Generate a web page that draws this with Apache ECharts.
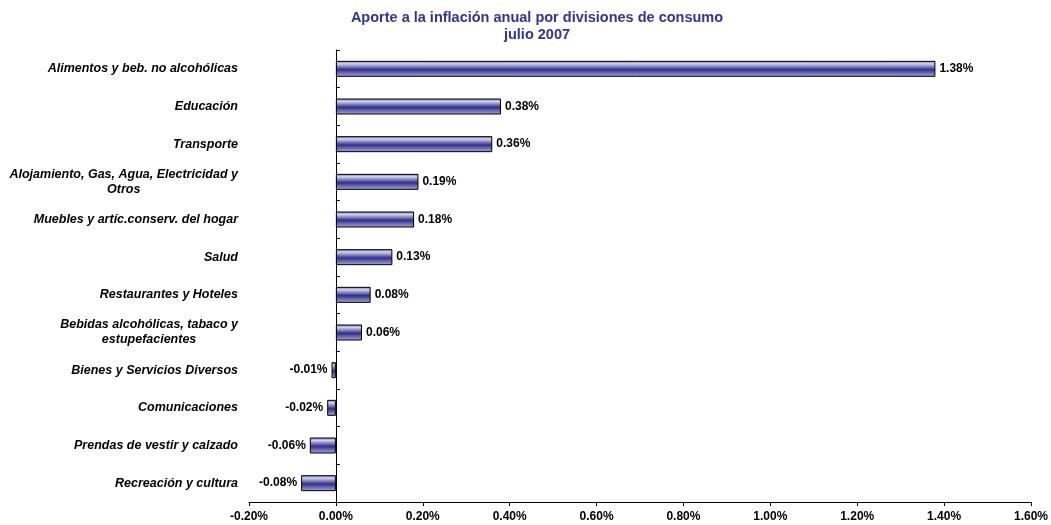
<!DOCTYPE html>
<html>
<head>
<meta charset="utf-8">
<script src="https://cdn.jsdelivr.net/npm/echarts@6/dist/echarts.min.js"></script>
<style>html,body{margin:0;padding:0;background:#fff;}#c{width:1051px;height:525px;}</style>
</head>
<body>
<div id="c"></div>
<script>
const categories = [
  'Alimentos y beb. no alcohólicas',
  'Educación',
  'Transporte',
  'Alojamiento, Gas, Agua, Electricidad y\nOtros',
  'Muebles y artíc.conserv. del hogar',
  'Salud',
  'Restaurantes y Hoteles',
  'Bebidas alcohólicas, tabaco y\nestupefacientes',
  'Bienes y Servicios Diversos',
  'Comunicaciones',
  'Prendas de vestir y calzado',
  'Recreación y cultura'
];
const values = [1.38, 0.38, 0.36, 0.19, 0.18, 0.13, 0.08, 0.06, -0.01, -0.02, -0.06, -0.08];
const titleLines = ['Aporte a la inflación anual por divisiones de consumo', 'julio 2007'];

const FONT = "'Liberation Sans', Arial, sans-serif";
const barGradient = new echarts.graphic.LinearGradient(0, 0, 0, 1, [
  {offset: 0, color: '#6a6aaa'},
  {offset: 0.18, color: '#d4d4ea'},
  {offset: 0.55, color: '#2e2e90'},
  {offset: 0.8, color: '#7676b8'},
  {offset: 1, color: '#a8a8d4'}
]);

const chart = echarts.init(document.getElementById('c'), null, {renderer: 'canvas'});
chart.setOption({
  animation: false,
  backgroundColor: '#ffffff',
  title: {
    text: titleLines.join('\n'),
    left: 532,
    textAlign: 'center',
    top: 4,
    textStyle: {fontFamily: FONT, fontWeight: 'bold', fontSize: 14.5, color: '#333399', lineHeight: 17}
  },
  grid: {left: 249, right: 16, top: 50, bottom: 23, containLabel: false},
  xAxis: {
    type: 'value',
    min: -0.2, max: 1.6, interval: 0.2,
    axisLine: {show: true, onZero: false, lineStyle: {color: '#000', width: 1}},
    axisTick: {show: true, length: 4, lineStyle: {color: '#000'}},
    splitLine: {show: false},
    axisLabel: {
      fontFamily: FONT, fontWeight: 'bold', fontSize: 12, color: '#000', margin: 9,
      formatter: v => v.toFixed(2) + '%'
    }
  },
  yAxis: [
    {
      type: 'category',
      data: categories,
      inverse: true,
      position: 'left',
      axisLine: {show: false, onZero: false},
      axisTick: {show: false},
      axisLabel: {
        margin: 11,
        align: 'right',
        formatter: v => v.split('\n').map(s => '{c|' + s + '}').join('\n'),
        rich: {
          c: {fontFamily: FONT, fontWeight: 'bold', fontStyle: 'italic', fontSize: 12.5, color: '#000', align: 'center', lineHeight: 15}
        }
      }
    },
    {
      type: 'category',
      data: categories,
      inverse: true,
      position: 'left',
      axisLine: {show: true, onZero: true, lineStyle: {color: '#000', width: 1}},
      axisTick: {show: true, inside: true, length: 4, lineStyle: {color: '#000'}},
      axisLabel: {show: false}
    }
  ],
  series: [{
    type: 'bar',
    yAxisIndex: 0,
    barWidth: 16,
    data: values.map(v => ({
      value: v,
      label: {position: v < 0 ? 'left' : 'right'}
    })),
    itemStyle: {color: barGradient, borderColor: '#000', borderWidth: 1},
    label: {
      show: true,
      distance: 4,
      fontFamily: FONT, fontWeight: 'bold', fontSize: 12, color: '#000',
      formatter: p => p.value.toFixed(2) + '%'
    }
  }]
});
</script>
</body>
</html>
